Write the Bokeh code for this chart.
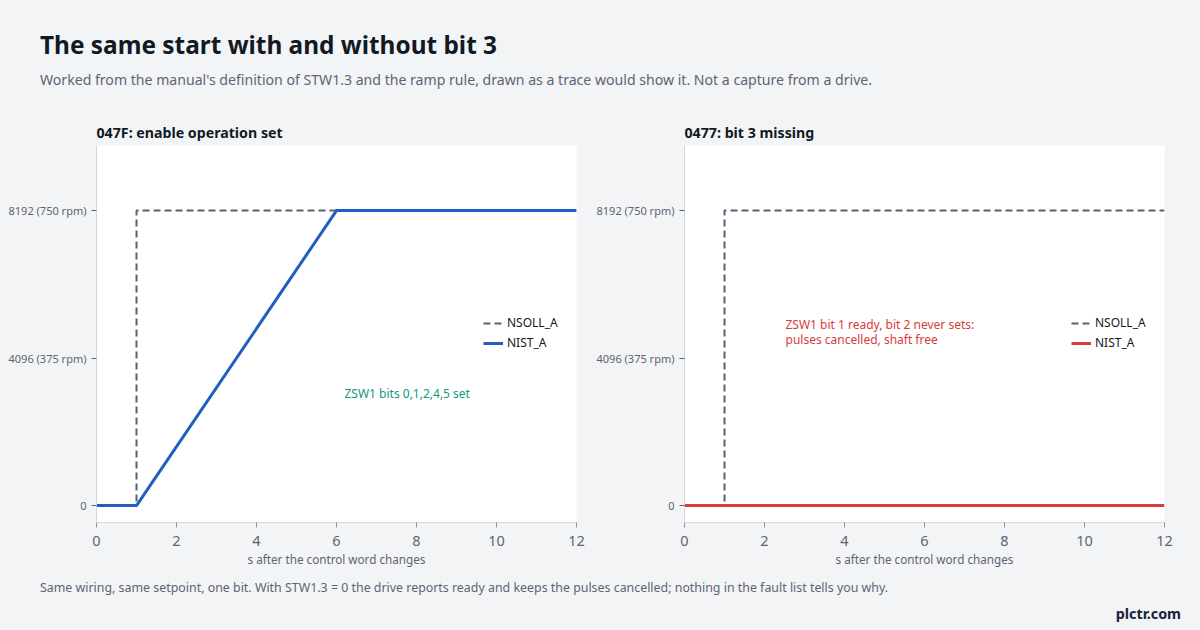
from bokeh.plotting import figure
from bokeh.layouts import column, row
from bokeh.models import Div, Legend, LegendItem
from bokeh.core.properties import value
from bokeh.embed import file_html
from bokeh.resources import INLINE

FONT = "Noto Sans"
BG = "#f3f4f6"
INK = "#111a24"
MUTED = "#5b6573"

# data: time in s, speed setpoint / actual in drive units (8192 = 750 rpm)
t_setpoint = [0, 1, 1, 12]
nsoll_a = [0, 0, 8192, 8192]

t_actual_ok = [0, 1, 6, 12]
nist_a_ok = [0, 0, 8192, 8192]

t_actual_bad = [0, 12]
nist_a_bad = [0, 0]

y_ticks = [0, 4096, 8192]
y_tick_labels = {0: "0", 4096: "4096 (375 rpm)", 8192: "8192 (750 rpm)"}
x_ticks = [0, 2, 4, 6, 8, 10, 12]

panel_titles = ["047F: enable operation set", "0477: bit 3 missing"]
notes = [["ZSW1 bits 0,1,2,4,5 set"],
         ["ZSW1 bit 1 ready, bit 2 never sets:", "pulses cancelled, shaft free"]]


def panel(title, t_act, v_act, act_color, note_lines, note_color, note_x, note_y, width):
    p = figure(width=width, height=459, x_range=(0, 12), y_range=(-470, 10000),
               output_backend="svg", toolbar_location=None, title=title,
               min_border_left=96, min_border_right=width - 576, min_border_top=30,
               min_border_bottom=52)
    p.background_fill_color = "white"
    p.border_fill_color = BG
    p.outline_line_color = None
    p.grid.grid_line_color = None

    p.title.text_font = FONT
    p.title.text_font_size = "14.2px"
    p.title.text_color = INK
    p.title.text_font_style = "bold"
    p.title.standoff = 8
    p.title.offset = 0

    for ax in (p.xaxis, p.yaxis):
        ax.axis_line_color = "#d3d8e0"
        ax.major_tick_line_color = MUTED
        ax.major_tick_in = 0
        ax.major_tick_out = 5
        ax.minor_tick_line_color = None
        ax.major_label_text_font = FONT
        ax.major_label_text_color = MUTED
    p.xaxis.major_tick_line_color = "#8a93a0"
    p.xaxis.ticker = x_ticks
    p.xaxis.major_label_text_font_size = "14.5px"
    p.xaxis.major_label_standoff = 8
    p.xaxis.axis_label = "s after the control word changes"
    p.xaxis.axis_label_text_font = FONT
    p.xaxis.axis_label_text_font_size = "11.7px"
    p.xaxis.axis_label_text_font_style = "normal"
    p.xaxis.axis_label_text_color = MUTED
    p.xaxis.axis_label_standoff = 2
    p.yaxis.ticker = y_ticks
    p.yaxis.major_label_overrides = y_tick_labels
    p.yaxis.major_label_text_font_size = "11px"
    p.yaxis.major_label_standoff = 5

    r_set = p.line(t_setpoint, nsoll_a, line_color="#566273", line_width=2, line_dash="7 4")
    r_act = p.line(t_act, v_act, line_color=act_color, line_width=3)

    n = len(note_lines)
    p.text(x=[note_x] * n, y=[note_y] * n, text=note_lines, y_offset=[15 * i for i in range(n)],
           text_font=value(FONT), text_font_size="12px", text_color=note_color,
           text_baseline="middle")

    legend = Legend(items=[LegendItem(label="NSOLL_A", renderers=[r_set]),
                           LegendItem(label="NIST_A", renderers=[r_act])],
                    location=(387, 171))
    legend.background_fill_alpha = 0
    legend.border_line_color = None
    legend.padding = 0
    legend.margin = 0
    legend.spacing = 3
    legend.glyph_width = 20
    legend.glyph_height = 14
    legend.label_height = 14
    legend.label_standoff = 4
    legend.label_text_font = FONT
    legend.label_text_font_size = "12px"
    legend.label_text_color = INK
    p.add_layout(legend, "center")
    return p


p1 = panel(panel_titles[0], t_actual_ok, nist_a_ok, "#1f5fbf", notes[0], "#14967f", 6.2, 3110, 588)
p2 = panel(panel_titles[1], t_actual_bad, nist_a_bad, "#d63c3c", notes[1], "#d63c3c", 2.525, 5026, 600)

header = Div(width=1188, height=115, margin=0, text=(
    f'<div style="font-family:{FONT};padding-left:40px;">'
    f'<div style="font-size:24.4px;font-weight:700;color:{INK};padding-top:30px;line-height:30px;">'
    'The same start with and without bit 3</div>'
    f'<div style="font-size:14.1px;color:{MUTED};padding-top:10px;line-height:20px;">'
    "Worked from the manual's definition of STW1.3 and the ramp rule, drawn as a trace would show it. "
    'Not a capture from a drive.</div></div>'))

footer = Div(width=1188, height=48, margin=0, text=(
    f'<div style="font-family:{FONT};width:1188px;">'
    f'<div style="font-size:12.4px;color:{MUTED};padding-left:40px;padding-top:6px;line-height:16px;">'
    'Same wiring, same setpoint, one bit. With STW1.3 = 0 the drive reports ready and keeps the pulses '
    'cancelled; nothing in the fault list tells you why.</div>'
    f'<div style="font-size:14.3px;font-weight:700;color:#16233a;text-align:right;padding-right:7px;'
    'padding-top:9px;line-height:18px;">plctr.com</div></div>'))

layout = column(header, row(p1, p2, spacing=0), footer, spacing=0)

html = file_html(layout, INLINE)
html = html.replace("</head>", f"<style>html, body {{ background: {BG} !important; }}</style></head>", 1)
open("out.html", "w").write(html)
